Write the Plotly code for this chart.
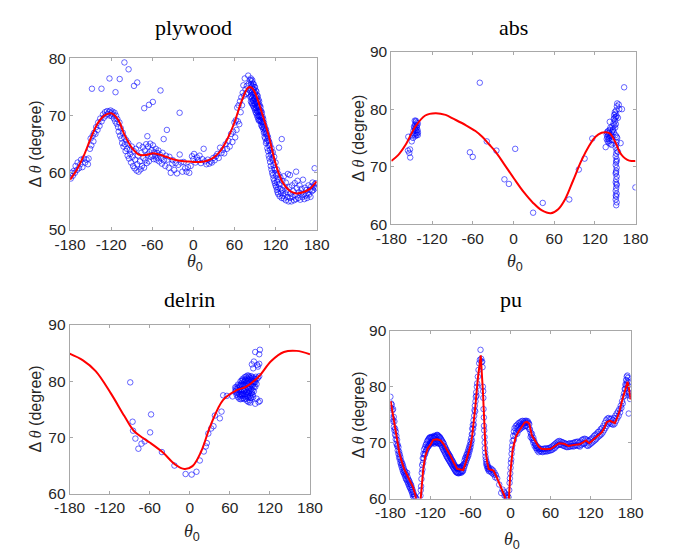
import plotly.graph_objects as go

W, H = 683, 555

# ---------------- data ----------------
x_ticks = [-180, -120, -60, 0, 60, 120, 180]
x_tick_labels = ["-180", "-120", "-60", "0", "60", "120", "180"]
titles = ["plywood", "abs", "delrin", "pu"]

# plywood
ply_curve_x = [-180, -170, -160, -150, -140, -130, -120, -110, -100, -90, -80, -70, -60, -50, -40, -30, -20, -10, 0, 10, 20, 30, 40, 50, 60, 70, 80, 85, 90, 100, 110, 120, 130, 140, 150, 160, 170, 180]
ply_curve_y = [58.8, 60.6, 63.0, 66.0, 68.6, 70.0, 70.4, 69.3, 66.5, 64.4, 63.2, 63.1, 63.4, 63.2, 62.8, 62.4, 62.1, 62.0, 61.9, 61.9, 62.1, 62.7, 63.9, 66.0, 68.8, 72.4, 74.9, 74.9, 74.0, 70.5, 66.5, 61.6, 58.4, 56.9, 56.4, 56.6, 57.2, 58.5]
ply_points = [
    (-179, 59.0), (-178, 60.0), (-176, 59.5), (-175, 60.3), (-173, 60.0), (-172, 61.2), (-170, 60.5), (-169, 61.8), (-167, 60.8), (-165, 61.5),
    (-164, 62.3), (-162, 61.0), (-160, 62.5), (-158, 61.8), (-156, 62.3), (-154, 61.5), (-153, 62.5), (-151, 64.2), (-150, 66.0), (-149, 64.8),
    (-147, 66.5), (-146, 65.5), (-145, 67.0), (-143, 66.8), (-142, 68.0), (-140, 67.5), (-139, 68.8), (-137, 68.2), (-136, 69.5), (-134, 69.0),
    (-132, 70.2), (-131, 69.6), (-129, 70.6), (-128, 70.0), (-126, 70.8), (-125, 70.3), (-123, 70.7), (-122, 70.0), (-121, 70.9), (-120, 70.4),
    (-119, 69.9), (-118, 70.7), (-117, 70.2), (-116, 69.5), (-115, 70.5), (-114, 69.0), (-113, 70.0), (-112, 68.6), (-111, 69.4), (-110, 68.0),
    (-109, 67.2), (-108, 68.8), (-107, 66.5), (-106, 67.8), (-105, 66.0), (-104, 65.2), (-103, 67.0), (-102, 64.6), (-101, 66.2), (-100, 65.0),
    (-99, 63.8), (-98, 65.7), (-97, 64.2), (-96, 63.0), (-95, 65.2), (-94, 62.5), (-93, 64.0), (-92, 63.3), (-91, 61.8), (-90, 64.6),
    (-89, 62.8), (-88, 61.2), (-87, 63.8), (-86, 60.8), (-85, 62.3), (-84, 64.2), (-83, 60.4), (-82, 61.5), (-81, 63.0), (-80, 60.2),
    (-79, 64.8), (-78, 62.0), (-77, 60.6), (-76, 63.5), (-75, 61.2), (-74, 64.5), (-73, 62.6), (-72, 60.9), (-71, 63.9), (-70, 62.2),
    (-69, 65.0), (-68, 61.7), (-67, 63.2), (-66, 64.6), (-65, 62.0), (-64, 63.6), (-63, 65.1), (-62, 62.8), (-61, 64.0), (-60, 63.0),
    (-59, 64.8), (-58, 62.4), (-57, 63.6), (-56, 62.9), (-55, 64.2), (-54, 62.3), (-53, 63.5), (-52, 62.6), (-51, 63.9), (-50, 62.0),
    (-49, 63.2), (-47, 62.6), (-46, 61.6), (-45, 63.5), (-43, 62.2), (-41, 61.2), (-40, 63.0), (-38, 62.3), (-36, 60.9), (-35, 62.8),
    (-33, 60.0), (-31, 61.6), (-30, 62.2), (-28, 60.5), (-26, 61.7), (-24, 59.9), (-22, 61.4), (-20, 63.2), (-18, 61.8), (-16, 60.2),
    (-14, 61.9), (-12, 60.8), (-10, 60.2), (-8, 61.0), (-6, 60.0), (-4, 61.2), (-2, 62.9), (0, 62.4), (1, 63.3), (3, 61.8),
    (5, 62.7), (7, 62.2), (9, 63.0), (11, 61.7), (13, 62.4), (15, 64.2), (17, 62.0), (19, 61.5), (21, 62.3), (23, 61.6),
    (25, 62.0), (27, 61.8), (29, 62.6), (31, 62.2), (33, 62.9), (35, 63.3), (37, 62.6), (39, 64.4), (41, 63.5), (43, 64.0),
    (45, 63.4), (47, 65.0), (49, 64.2), (51, 65.6), (53, 64.6), (55, 66.8), (57, 65.4), (58, 67.2), (60, 68.8), (61, 66.2),
    (62, 69.2), (63, 67.5), (64, 71.4), (65, 69.0), (66, 71.8), (67, 68.5), (68, 72.5), (69, 70.6), (70, 73.2), (71, 71.8),
    (72, 74.0), (73, 75.3), (74, 73.5), (75, 76.5), (76, 74.6), (77, 73.8), (78, 75.2), (79, 74.0), (80, 77.0), (81, 75.6),
    (82, 74.4), (83, 76.2), (83, 73.3),
    (84, 76.5), (84, 75.5), (84, 74.5), (84, 73.5), (84, 72.5), (85, 76.0), (85, 75.0), (85, 74.0), (85, 73.0), (85, 72.2),
    (86, 76.2), (86, 75.2), (86, 74.2), (86, 73.2), (86, 72.1), (87, 75.6), (87, 74.6), (87, 73.6), (87, 72.6), (87, 71.8),
    (88, 75.5), (88, 74.5), (88, 73.5), (88, 72.6), (88, 71.6), (89, 75.0), (89, 74.0), (89, 73.0), (89, 72.1), (89, 71.3),
    (90, 75.0), (90, 74.0), (90, 73.0), (90, 72.0), (90, 71.0), (91, 74.4), (91, 73.4), (91, 72.4), (91, 71.4), (91, 70.6),
    (92, 74.2), (92, 73.2), (92, 72.3), (92, 71.3), (92, 70.4), (93, 73.6), (93, 72.6), (93, 71.7), (93, 70.8), (93, 70.0),
    (94, 73.4), (94, 72.5), (94, 71.5), (94, 70.6), (94, 69.7), (95, 72.8), (95, 71.8), (95, 70.9), (95, 70.0), (95, 69.3),
    (96, 72.5), (96, 71.6), (96, 70.7), (96, 69.9), (96, 69.1), (97, 71.8), (97, 70.9), (97, 70.1), (97, 69.3),
    (98, 71.5), (98, 70.6), (98, 69.8), (98, 69.0), (99, 70.8), (99, 69.9), (99, 69.1), (99, 68.4),
    (100, 70.5), (100, 69.6), (100, 68.8), (100, 68.1), (101, 69.8), (101, 68.9), (101, 68.0), (102, 69.4), (102, 68.5), (102, 67.6),
    (103, 68.8), (103, 67.9), (103, 67.0), (104, 68.2), (104, 67.2), (104, 66.3),
    (105, 67.5), (105, 66.0), (106, 67.6), (106, 66.8), (106, 65.2), (107, 67.0), (107, 65.5), (108, 66.5), (108, 65.8), (108, 64.3),
    (109, 66.2), (109, 63.8), (110, 65.6), (110, 64.8), (110, 63.0), (111, 65.3), (111, 62.5), (112, 64.8), (112, 64.0), (112, 61.9),
    (113, 63.2), (113, 61.2), (114, 64.3), (114, 63.5), (114, 60.6), (115, 62.5), (115, 60.0), (116, 63.6), (116, 62.2), (116, 59.6),
    (117, 61.4), (117, 59.0), (118, 62.8), (118, 60.8), (118, 58.6), (119, 60.5), (119, 58.2), (120, 61.8), (120, 59.9), (120, 57.8),
    (121, 59.5), (121, 57.5), (122, 60.6), (122, 58.4), (122, 57.0), (123, 58.8), (123, 56.6), (124, 59.8), (124, 57.4), (124, 56.3),
    (125, 64.4), (125, 58.0), (126, 55.9), (127, 59.2), (127, 57.2), (128, 56.5), (129, 65.9), (129, 55.6), (130, 58.6), (130, 57.0),
    (131, 56.0), (132, 59.4), (132, 55.5), (133, 57.6), (134, 56.4), (135, 58.3), (135, 55.2), (136, 57.0), (137, 55.8), (138, 59.8),
    (138, 56.6), (139, 55.0), (140, 57.5), (141, 59.6), (141, 55.6), (142, 56.3), (143, 55.0), (144, 57.8), (145, 55.8), (146, 56.8),
    (147, 55.2), (148, 58.2), (149, 56.1), (150, 60.2), (150, 55.4), (151, 57.3), (152, 58.6), (153, 55.6), (154, 56.6), (155, 57.8),
    (156, 55.3), (157, 56.4), (158, 57.2), (159, 55.8), (160, 58.8), (161, 56.2), (162, 55.4), (163, 57.4), (164, 56.0), (165, 57.0),
    (166, 55.6), (167, 56.4), (168, 57.8), (169, 56.2), (170, 57.0), (171, 55.8), (172, 57.6), (173, 56.8), (174, 58.3), (175, 57.0),
    (176, 57.6), (177, 60.8), (177, 58.0), (178, 57.3), (179, 58.2), (180, 57.5),
    (-100.7, 79.3), (-94.6, 78.1), (-122.5, 76.5), (-107.6, 76.4), (-148.1, 74.7), (-134.2, 74.7), (-113.7, 74.1), (-82, 75.8),
    (-86.7, 75.2), (-48, 74.4), (-71.8, 71.3), (-64.8, 71.9), (-59.2, 72.4), (-20.1, 70.5), (-38.7, 67.5), (-43.4, 65.9), (-67.2, 66.4),
]

# abs
abs_curve_x = [-180, -170, -159, -145, -130, -115, -100, -88, -70, -56, -46, -36, -27, -14, 1, 15, 29, 42, 55, 66, 76, 88, 100, 111, 121, 130, 136, 142, 147, 152, 156, 162, 168, 174, 180]
abs_curve_y = [71.0, 72.0, 73.8, 76.9, 78.9, 79.3, 79.0, 78.3, 77.2, 76.2, 75.2, 73.9, 72.7, 70.5, 67.9, 65.6, 63.7, 62.4, 61.9, 62.6, 64.3, 67.6, 71.0, 73.5, 75.2, 75.9, 76.0, 75.8, 75.0, 73.8, 72.7, 71.7, 71.2, 71.0, 71.0]
abs_points = [
    (-155, 75.2), (-155.5, 72.8), (-153.6, 72.4), (-152.5, 73.0), (-152.2, 71.6), (-150, 74.4), (-149, 75.5), (-148, 75.0), (-147.5, 76.2),
    (-146, 75.6), (-146, 76.8), (-145.2, 76.6), (-145, 77.3), (-144.5, 75.8), (-144, 76.4), (-144, 77.8), (-143.8, 78.0), (-143.5, 77.0),
    (-143, 75.5), (-143, 76.2), (-142.8, 77.6), (-142.5, 76.8), (-142, 75.8), (-142, 77.2), (-141.5, 76.4), (-141, 77.5), (-140.8, 76.0),
    (-144.8, 75.3), (-146.5, 77.0), (-145.5, 78.0), (-141, 75.5),
    (-49.6, 84.6), (-64.2, 72.5), (-60, 71.7), (-39.3, 74.4), (-25.1, 72.8), (2.6, 73.1), (-13.3, 67.8), (-6.7, 67.0), (29, 62.0),
    (43.2, 63.7), (82.3, 64.3), (96.4, 69.5), (104.9, 71.4), (116.2, 74.9),
    (136, 73.4), (137.5, 74.8), (137.5, 75.6), (138, 76.0), (138.5, 75.2), (139, 74.4), (139, 75.8), (139.5, 76.2), (140, 74.8),
    (140, 75.5), (140.5, 74.2), (141, 75.9), (141, 75.0), (141.5, 74.5), (142, 76.4), (142, 77.8), (142.5, 75.3), (143, 74.0),
    (143, 76.8), (144, 75.5), (144.5, 73.8), (145, 76.0), (145, 74.6), (146, 75.2), (146, 77.0), (146.5, 76.3),
    (147, 76.5), (147.5, 77.5), (148, 78.3), (148, 76.0), (148.5, 79.0), (149, 77.2), (149, 78.5), (149.5, 79.5), (150, 78.0),
    (150, 76.8), (150.5, 79.2), (151, 78.6), (151, 77.4), (151.5, 79.8), (152, 78.8), (152.5, 80.5), (153, 81.0), (154, 78.5),
    (155.3, 80.8), (153, 75.0), (156, 80.0), (158, 74.1), (160, 80.0), (163.2, 83.8), (154, 72.6), (179.8, 66.4), (150.5, 75.5), (152, 75.2),
    (151.5, 63.3), (152.2, 63.8), (150.8, 64.3), (151.5, 64.8), (152.2, 65.3), (150.8, 65.8), (151.5, 66.3), (152.2, 66.8), (150.8, 67.3),
    (151.5, 67.8), (152.2, 68.3), (150.8, 68.8), (151.5, 69.3), (152.2, 69.8), (150.8, 70.3), (151.5, 70.8), (152.2, 71.3), (150.8, 71.8),
    (151.5, 72.3), (152.2, 72.8), (150.8, 73.3), (151.5, 73.8), (152.2, 74.3), (151.0, 65.0), (152.0, 67.0), (151.2, 69.0), (152.0, 71.0),
]

# delrin
delrin_curve_x = [-180, -160, -141, -118, -98, -84, -70, -60, -41, -22, -8, 4, 17, 31, 50, 70, 84, 103, 122, 141, 160, 180]
delrin_curve_y = [84.9, 83.7, 81.8, 77.8, 73.8, 71.2, 69.9, 69.1, 67.4, 65.2, 64.4, 64.9, 67.5, 72.1, 76.7, 78.4, 79.0, 80.8, 83.6, 85.2, 85.4, 84.8]
delrin_points = [
    (-89.2, 79.8), (-85.7, 72.8), (-85, 71.2), (-81.5, 69.8), (-77, 68.0), (-72.3, 68.9), (-67.6, 69.3), (-59.4, 70.9), (-58, 74.1),
    (-41.8, 67.4), (-23, 65.0), (-6.3, 63.5), (2.8, 63.4), (10, 63.9), (15, 65.9), (21, 67.5), (24, 68.4), (25.5, 69.0), (27.7, 70.7),
    (32, 71.6), (35.5, 72.0), (37.6, 73.9), (45, 73.4), (47.5, 74.6), (50, 77.5), (55.5, 77.4), (64, 77.3),
    (68, 78.2), (68, 78.9), (70, 77.6), (70, 78.4), (70, 79.0), (72, 77.2), (72, 78.0), (72, 78.8), (72, 79.4),
    (74, 76.9), (74, 77.7), (74, 78.5), (74, 79.3), (76, 76.8), (76, 77.6), (76, 78.4), (76, 79.2), (76, 80.0),
    (78, 76.9), (78, 77.7), (78, 78.5), (78, 79.3), (78, 80.1), (80, 77.0), (80, 77.8), (80, 78.6), (80, 79.4), (80, 80.2),
    (82, 76.8), (82, 77.6), (82, 78.4), (82, 79.2), (82, 80.0), (82, 80.7), (84, 76.9), (84, 77.7), (84, 78.5), (84, 79.3), (84, 80.1), (84, 80.8),
    (86, 76.5), (86, 77.3), (86, 78.1), (86, 78.9), (86, 79.7), (86, 80.5), (86, 81.0), (88, 76.3), (88, 77.1), (88, 77.9), (88, 78.7),
    (88, 79.5), (88, 80.3), (88, 81.0), (90, 76.6), (90, 77.4), (90, 78.2), (90, 79.0), (90, 79.8), (90, 80.6),
    (92, 77.0), (92, 77.8), (92, 78.6), (92, 79.4), (92, 80.2), (92, 80.9), (94, 77.6), (94, 78.4), (94, 79.2), (94, 80.0), (94, 80.7),
    (96, 78.2), (96, 79.0), (96, 79.8), (96, 80.5), (98, 79.0), (98, 79.8), (98, 80.4), (100, 79.5), (100, 80.3),
    (69, 78.6), (71, 77.9), (73, 78.3), (75, 79.0), (75, 77.3), (77, 78.1), (77, 79.6), (79, 77.4), (79, 80.4), (81, 78.2), (81, 79.8),
    (83, 77.3), (83, 80.3), (85, 78.0), (85, 79.6), (87, 77.6), (87, 80.0), (89, 78.3), (89, 80.8), (91, 77.1), (91, 79.4),
    (93, 78.0), (93, 80.5), (95, 77.2), (95, 79.5), (97, 80.0), (99, 80.8), (102, 80.6), (104, 80.9),
    (98, 85.2), (105, 85.6), (104, 84.8), (104, 83.1), (102, 82.6), (96, 83.5), (95, 82.3), (98, 76.0), (105, 76.5), (103, 76.3),
    (90.6, 76.2), (100, 76.9), (93, 83.0), (101, 82.9),
]

# pu
pu_curve_x = [-179.6, -176, -173.8, -170, -166.7, -163, -159.5, -155, -150, -146, -142.7, -138, -134.6, -130.8, -128, -124, -120, -116, -110, -105, -100, -95, -90, -85, -80, -75, -71, -67, -63.8, -60, -57.6, -55, -52.9, -49, -44.7, -41.4, -39, -37.5, -35, -32.8, -28, -25.6, -20, -16, -12, -8.8, -6, -3, -1.7, -0.2, 3.1, 8, 12, 17.4, 21, 24.6, 28, 31.8, 35, 38.9, 42, 46.1, 53, 60.5, 66, 72.5, 80, 86.9, 95, 103.5, 108, 113, 117.9, 122, 127.5, 132, 137, 141, 144.2, 149, 153, 156.2, 160, 163.3, 167, 170.5, 173, 175.3, 177.7, 180]
pu_curve_y = [77.4, 75.0, 73.4, 70.5, 68.2, 66.6, 65.3, 64.2, 63.0, 62.0, 60.7, 57.0, 60.0, 65.3, 67.5, 69.0, 69.6, 70.5, 70.6, 70.4, 69.7, 68.7, 67.6, 66.4, 65.3, 65.2, 65.1, 66.5, 67.9, 69.5, 71.1, 73.5, 76.3, 81.5, 85.6, 79.1, 72.0, 68.7, 66.5, 65.3, 65.1, 65.0, 63.6, 62.4, 61.3, 60.4, 58.5, 58.8, 61.8, 64.7, 68.7, 71.1, 72.0, 73.1, 73.6, 73.7, 73.4, 71.3, 70.6, 69.9, 69.3, 68.9, 68.8, 68.9, 69.3, 69.9, 69.8, 69.4, 69.6, 69.7, 70.0, 70.4, 69.9, 70.3, 70.8, 71.3, 71.9, 72.8, 73.7, 73.9, 73.6, 73.5, 74.5, 75.7, 77.5, 79.1, 80.3, 80.9, 79.4, 77.7]
pu_points = [
    (-180, 78.2), (-179, 77.0), (-179, 76.2), (-178, 76.8), (-178, 74.5), (-177, 75.8), (-177, 74.2), (-176, 76.0), (-176, 73.8),
    (-175, 74.6), (-175, 72.8), (-174, 73.8), (-174, 72.2), (-173, 72.5), (-173, 71.4), (-172, 72.0), (-172, 70.6), (-171, 71.2),
    (-171, 69.8), (-170, 70.5), (-170, 69.4), (-169, 69.6), (-169, 68.6), (-168, 69.2), (-168, 68.0), (-167, 68.4), (-167, 67.4),
    (-166, 67.9), (-166, 67.0), (-165, 67.4), (-165, 66.4), (-164, 66.8), (-164, 66.0), (-163, 66.4), (-163, 65.6), (-162, 66.2),
    (-162, 65.2), (-161, 65.8), (-161, 64.8), (-160, 65.4), (-160, 64.6), (-159, 65.0), (-159, 64.3), (-158, 64.8), (-158, 64.0),
    (-157, 64.4), (-157, 63.6), (-156, 64.2), (-156, 63.4), (-155, 64.6), (-155, 63.2), (-154, 63.8), (-154, 62.9), (-153, 63.4),
    (-153, 62.6), (-152, 63.2), (-152, 62.3), (-151, 62.9), (-151, 62.0), (-150, 62.6), (-150, 61.8), (-149, 62.4), (-149, 61.5),
    (-148, 62.0), (-148, 61.2), (-147, 61.6), (-147, 60.8), (-146, 61.2), (-146, 60.4), (-145, 60.8), (-145, 60.2), (-144, 60.5),
    (-143, 60.3), (-142, 60.1),
    (-135, 60.5), (-134.5, 61.5), (-134, 62.2), (-133.5, 63.5), (-133, 64.6), (-132.5, 66.0), (-132, 65.2), (-131.5, 67.2), (-131, 66.4),
    (-130.5, 68.0), (-130, 67.2), (-129.5, 68.8), (-129, 67.8), (-128, 69.2), (-128, 68.0), (-127, 69.6), (-127, 68.4), (-126, 69.8),
    (-126, 68.7), (-125, 70.2), (-125, 69.0), (-124, 70.4), (-124, 69.2), (-123, 70.6), (-123, 69.4), (-122, 70.8), (-122, 69.5),
    (-121, 70.9), (-121, 69.8), (-120, 71.0), (-120, 70.0), (-119, 70.8), (-119, 69.8), (-118, 71.0), (-118, 70.2), (-117, 71.0),
    (-117, 70.0), (-116, 70.8), (-116, 70.1), (-115, 71.2), (-115, 70.0), (-114, 71.0), (-114, 69.8), (-113, 71.2), (-113, 70.2),
    (-112, 71.0), (-112, 70.0), (-111, 71.3), (-111, 70.2), (-110, 71.4), (-110, 70.0), (-109, 71.3), (-109, 70.0), (-108, 71.2),
    (-108, 69.8), (-107, 71.0), (-107, 70.3), (-106, 71.0), (-106, 69.9), (-105, 70.8), (-105, 69.8), (-104, 70.6), (-104, 69.6),
    (-103, 70.4), (-103, 69.3), (-102, 70.2), (-102, 69.1), (-101, 70.0), (-101, 68.8), (-100, 69.8), (-100, 68.6), (-99, 69.4),
    (-99, 68.4), (-98, 69.2), (-98, 68.1), (-97, 68.9), (-97, 67.9), (-96, 68.7), (-96, 67.6), (-95, 68.4), (-95, 67.4), (-94, 68.2),
    (-94, 67.2), (-93, 68.0), (-93, 67.0), (-92, 67.8), (-92, 66.8), (-91, 67.6), (-91, 66.6), (-90, 67.4), (-90, 66.4), (-89, 67.1),
    (-89, 66.2), (-88, 66.9), (-88, 66.0), (-87, 66.7), (-87, 65.8), (-86, 66.5), (-86, 65.6), (-85, 66.2), (-85, 65.4), (-84, 66.0),
    (-84, 65.2), (-83, 65.8), (-83, 65.0), (-82, 65.6), (-82, 64.8), (-81, 65.5), (-81, 64.7), (-80, 65.4), (-80, 64.6), (-79, 65.5),
    (-79, 64.6), (-78, 65.4), (-78, 64.5), (-77, 65.6), (-77, 64.7), (-76, 65.4), (-76, 64.6), (-75, 65.6), (-75, 64.8), (-74, 65.5),
    (-74, 64.6), (-73, 65.8), (-73, 64.9), (-72, 65.7), (-72, 64.8), (-71, 66.0), (-71, 65.0),
    (-70, 66.2), (-70, 65.4), (-69, 66.8), (-69, 65.8), (-68, 67.2), (-68, 66.2), (-67, 67.4), (-67, 66.5), (-66, 67.8), (-66, 66.9),
    (-65, 68.0), (-65, 67.2), (-64, 68.4), (-64, 67.5), (-63, 68.8), (-63, 67.8), (-62, 69.2), (-62, 68.3), (-61, 69.6), (-61, 68.7),
    (-60, 70.2), (-60, 69.2), (-59, 70.8), (-59, 69.8), (-58, 71.5), (-58, 70.4), (-57.5, 72.5), (-57, 71.6), (-56.5, 73.2), (-56, 72.5),
    (-55.5, 74.0), (-55, 73.2), (-54.5, 74.8), (-54, 75.8), (-53.5, 76.6), (-53, 75.6), (-52.5, 77.4), (-52, 78.2), (-51.5, 79.0),
    (-51, 78.4), (-50.5, 80.0), (-50, 80.6), (-49, 81.8), (-48, 83.0), (-47, 84.2), (-46, 84.8), (-45, 86.6), (-44, 85.0), (-43.5, 84.4),
    (-42.5, 84.5), (-42, 83.5), (-41.5, 80.0), (-41, 79.2), (-40.8, 78.0), (-40.5, 76.0), (-40, 74.5), (-39.8, 73.0), (-39.5, 72.2),
    (-39, 71.0), (-38.8, 70.0), (-38.5, 69.0), (-38, 68.2), (-37.5, 67.5), (-37, 67.0), (-36.5, 66.2), (-36, 66.6), (-35.5, 65.8),
    (-35, 66.2), (-34.5, 65.4), (-34, 65.8), (-33.5, 65.2), (-33, 65.6), (-32.5, 64.9), (-32, 65.3), (-31, 65.0), (-30, 65.4),
    (-29, 64.7), (-28, 65.2), (-27, 64.5), (-26, 65.0), (-25, 64.3), (-24, 64.6), (-23, 63.8), (-22, 64.2),
    (-20, 63.6), (-17, 62.5), (-14, 61.0), (-12, 61.6), (-10, 61.2), (-9, 60.5), (-8, 60.9), (-7, 60.3), (-6, 60.6), (-5, 60.1),
    (-4, 60.4), (-3, 60.2), (-2, 61.5), (-1.5, 62.8), (-1, 63.6), (-0.5, 64.5), (0, 65.5), (0.5, 66.4), (1, 67.0), (1.5, 68.0), (2, 68.8),
    (2.5, 69.5), (3, 70.3), (4, 71.2), (5, 72.0), (5, 70.5), (6, 72.6), (7, 71.4), (8, 73.0), (8, 71.8), (9, 72.5), (10, 73.2),
    (10, 71.6), (11, 72.8), (12, 73.5), (12, 72.2), (13, 73.0), (14, 73.6), (14, 72.4), (15, 73.3), (16, 73.8), (16, 72.6), (17, 73.1),
    (18, 73.9), (18, 72.8), (19, 73.4), (20, 73.8), (20, 72.9), (21, 73.5), (22, 73.9), (22, 73.0), (23, 73.6), (24, 73.9), (24, 73.0),
    (25, 73.6), (26, 73.8), (26, 72.8), (27, 73.5), (28, 73.3), (28, 72.4), (29, 72.4), (30, 71.8), (30, 71.0), (31, 71.4), (32, 70.8),
    (32, 71.6), (33, 70.5), (34, 70.9), (34, 70.0), (35, 70.4), (36, 70.0), (36, 69.4), (37, 69.7), (38, 69.5), (38, 69.0), (39, 69.4),
    (40, 69.0), (40, 68.6), (41, 69.2), (42, 68.8), (42, 68.3), (43, 68.9), (44, 68.5), (45, 68.9), (46, 68.4), (47, 68.8), (48, 68.3),
    (49, 68.9), (50, 68.4), (51, 68.9), (52, 68.5), (53, 69.0), (54, 68.4), (55, 68.9), (56, 68.5), (57, 69.0), (58, 68.6), (59, 69.1),
    (60, 68.6), (61, 69.2), (62, 68.7), (63, 69.4), (64, 68.9), (65, 69.6), (66, 69.0), (67, 69.8), (68, 69.3), (69, 70.0), (70, 69.5),
    (71, 70.2), (72, 69.6), (73, 70.3), (74, 69.7), (75, 70.2), (76, 69.6), (77, 70.1), (78, 69.5), (79, 70.0), (80, 69.4), (81, 69.9),
    (82, 69.3), (83, 69.8), (84, 69.2), (85, 69.7), (86, 69.2), (87, 69.8), (88, 69.3), (89, 69.9), (90, 69.3), (91, 69.8), (92, 69.4),
    (93, 69.9), (94, 69.3), (95, 70.0), (96, 69.4), (97, 70.1), (98, 69.5), (99, 70.1), (100, 69.5), (101, 70.2), (102, 69.4),
    (103, 70.0), (104, 69.3), (105, 70.2), (106, 69.6), (107, 70.5), (108, 69.8), (109, 70.6), (110, 69.8), (111, 70.7), (112, 69.9),
    (113, 70.6), (114, 69.5), (115, 70.4), (116, 69.4), (117, 70.3), (118, 69.6), (119, 70.5), (120, 69.8), (121, 70.7), (122, 70.0),
    (123, 70.9), (124, 70.2), (125, 71.2), (126, 70.4), (127, 71.4), (128, 70.6), (129, 71.6), (130, 70.9), (131, 71.9), (132, 71.1),
    (133, 72.0), (134, 71.3), (135, 72.4), (136, 71.5), (137, 72.6), (138, 71.8), (139, 73.0), (140, 72.2), (141, 73.5), (142, 72.6),
    (143, 74.0), (144, 73.0), (145, 74.3), (146, 73.4), (147, 74.4), (148, 73.6), (149, 74.2), (150, 73.4), (151, 74.3), (152, 73.3),
    (153, 74.0), (154, 73.2), (155, 74.4), (156, 73.4), (157, 74.8), (158, 73.9), (159, 75.2), (160, 74.4), (161, 75.6), (162, 74.8),
    (163, 76.0), (164, 75.4), (165, 76.6), (166, 76.2), (167, 77.4), (168, 77.0), (169, 78.2), (170, 78.8), (171, 79.6), (171, 78.4),
    (172, 80.4), (172, 79.6), (173, 81.2), (173, 80.2), (174, 81.8), (174, 80.6), (175, 82.0), (175, 81.0), (176, 81.6), (176, 80.2),
    (177, 80.8), (177, 79.0), (178, 79.6), (178, 78.4), (179, 78.8), (179, 77.8), (180, 78.4), (177, 75.2),
]

# ---------------- layout helpers ----------------
def fx(px):
    return px / W

def fy(py):
    return 1 - py / H

panels = [
    dict(pts=ply_points, cx=ply_curve_x, cy=ply_curve_y, yr=[50, 80], yt=[50, 60, 70, 80], shape="spline",
         dom_x=(56.5, 314), dom_y=(51, 228), title_y=19, xlab_y=262, ylab_x=20),
    dict(pts=abs_points, cx=abs_curve_x, cy=abs_curve_y, yr=[60, 90], yt=[60, 70, 80, 90], shape="spline",
         dom_x=(392, 647), dom_y=(44, 222), title_y=19, xlab_y=262, ylab_x=358),
    dict(pts=delrin_points, cx=delrin_curve_x, cy=delrin_curve_y, yr=[60, 90], yt=[60, 70, 80, 90], shape="spline",
         dom_x=(56, 307), dom_y=(326, 500), title_y=300, xlab_y=540, ylab_x=20),
    dict(pts=pu_points, cx=pu_curve_x, cy=pu_curve_y, yr=[60, 90], yt=[60, 70, 80, 90], shape="linear",
         dom_x=(391, 642), dom_y=(332, 505), title_y=300, xlab_y=548, ylab_x=358),
]

fig = go.Figure()
annotations = []
axis_color = "#a8a8a8"
tick_font = dict(family="Liberation Sans, Arial, sans-serif", size=15.5, color="#262626")

for i, p in enumerate(panels):
    n = "" if i == 0 else str(i + 1)
    xs = [q[0] for q in p["pts"]]
    ys = [q[1] for q in p["pts"]]
    fig.add_trace(go.Scatter(
        x=xs, y=ys, mode="markers", xaxis="x" + n, yaxis="y" + n,
        marker=dict(symbol="circle-open", size=5.5, color="rgba(0,0,255,0.75)", line=dict(width=0.8)),
        showlegend=False, hoverinfo="skip"))
    fig.add_trace(go.Scatter(
        x=p["cx"], y=p["cy"], mode="lines", xaxis="x" + n, yaxis="y" + n,
        line=dict(color="#ff0000", width=2, shape=p["shape"], smoothing=1.0 if p["shape"] == "spline" else None),
        showlegend=False, hoverinfo="skip"))
    common = dict(showline=True, mirror="allticks", linecolor=axis_color, linewidth=1, ticks="inside",
                  ticklen=3, tickcolor=axis_color, showgrid=False, zeroline=False, tickfont=tick_font)
    fig.layout["xaxis" + n] = dict(domain=[fx(p["dom_x"][0]), fx(p["dom_x"][1])], range=[-180, 180],
                                   tickvals=x_ticks, ticktext=x_tick_labels, anchor="y" + n, **common)
    fig.layout["yaxis" + n] = dict(domain=[fy(p["dom_y"][1]), fy(p["dom_y"][0])], range=p["yr"],
                                   tickvals=p["yt"], anchor="x" + n, **common)
    cx = (p["dom_x"][0] + p["dom_x"][1]) / 2
    cy = (p["dom_y"][0] + p["dom_y"][1]) / 2
    annotations.append(dict(text=titles[i], x=fx(cx), y=fy(p["title_y"]), xref="paper", yref="paper",
                            xanchor="center", yanchor="middle", showarrow=False,
                            font=dict(family="Liberation Serif, Times New Roman, serif", size=22, color="black")))
    annotations.append(dict(text='<i>θ</i><sub><span style="font-family:Liberation Sans">0</span></sub>',
                            x=fx(cx + 2), y=fy(p["xlab_y"]), xref="paper", yref="paper",
                            xanchor="center", yanchor="middle", showarrow=False,
                            font=dict(family="Liberation Serif, Times New Roman, serif", size=18, color="#262626")))
    annotations.append(dict(text='Δ <span style="font-family:Liberation Serif"><i>θ</i></span> (degree)',
                            x=fx(p["ylab_x"]), y=fy(cy), xref="paper", yref="paper", textangle=-90,
                            xanchor="center", yanchor="middle", showarrow=False,
                            font=dict(family="Liberation Sans, Arial, sans-serif", size=16, color="#262626")))

fig.update_layout(width=W, height=H, autosize=False, margin=dict(l=0, r=0, t=0, b=0),
                  paper_bgcolor="white", plot_bgcolor="white", annotations=annotations)

fig.write_html("out.html", config={"displayModeBar": False},
               post_script="document.body.style.margin='0';document.body.style.overflow='hidden';")
